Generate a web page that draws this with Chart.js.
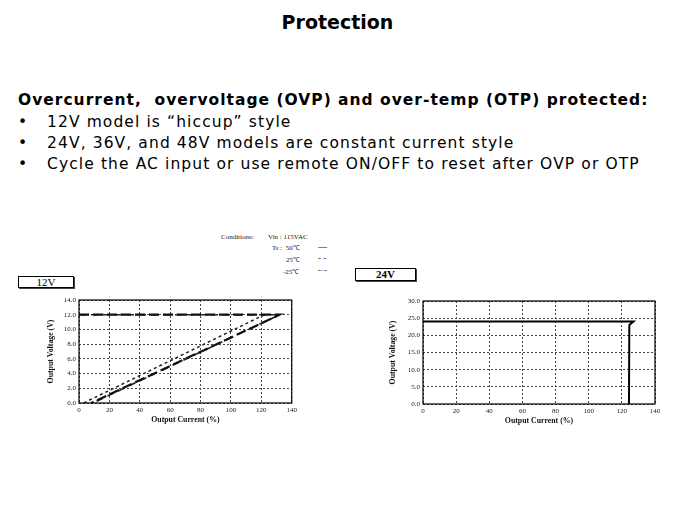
<!DOCTYPE html>
<html><head><meta charset="utf-8">
<script src="https://cdn.jsdelivr.net/npm/chart.js@4"></script>
<style>
html,body{margin:0;padding:0;background:#fff;}
body{width:675px;height:506px;position:relative;overflow:hidden;font-family:"DejaVu Sans",Verdana,sans-serif;color:#000;}
.abs{position:absolute;white-space:nowrap;}
#title{left:0;width:675px;text-align:center;top:11px;font-size:19px;font-weight:bold;}
#head{left:18px;top:91px;font-size:15.5px;font-weight:bold;letter-spacing:1px;}
.bul{left:18px;font-size:15.5px;}
.bul span{position:absolute;left:29px;letter-spacing:1.1px;}
.box{border:1px solid #000;font-family:"Liberation Serif",serif;font-size:11px;text-align:center;line-height:10px;box-shadow:1px 1px 0 #444;}
.cond{font-family:"Liberation Serif",serif;font-size:7px;color:#222;}
</style></head>
<body>
<div id="title" class="abs">Protection</div>
<div id="head" class="abs">Overcurrent,&nbsp; overvoltage (OVP) and over-temp (OTP) protected:</div>
<div class="abs bul" style="top:113px">•<span>12V model is “hiccup” style</span></div>
<div class="abs bul" style="top:134px">•<span>24V, 36V, and 48V models are constant current style</span></div>
<div class="abs bul" style="top:155px">•<span>Cycle the AC input or use remote ON/OFF to reset after OVP or OTP</span></div>

<div class="abs cond" style="left:221px;top:233px">Conditions:</div>
<div class="abs cond" style="left:268px;top:233px">Vin : 115VAC</div>
<div class="abs cond" style="left:272px;top:243px">Ts :&nbsp; 50℃</div>
<div class="abs cond" style="left:286px;top:255px">25℃</div>
<div class="abs cond" style="left:283px;top:267px">-25℃</div>
<div class="abs cond" style="left:318px;top:241px;font-size:9px">—</div>
<div class="abs cond" style="left:318px;top:253px;font-size:9px">- -</div>
<div class="abs cond" style="left:318px;top:265px;font-size:9px">-·-</div>

<div class="abs box" style="left:18px;top:276px;width:54px;height:10px">12V</div>
<div class="abs box" style="left:355px;top:268px;width:59px;height:11px;font-weight:bold">24V</div>

<div class="abs" style="left:20px;top:290px;width:280px;height:150px"><canvas id="c1"></canvas></div>
<div class="abs" style="left:360px;top:290px;width:310px;height:150px"><canvas id="c2"></canvas></div>

<script>
// ---- data ----
const xTicks = [0, 20, 40, 60, 80, 100, 120, 140];
const yTicks12 = [0, 2, 4, 6, 8, 10, 12, 14];
const yTicks24 = [0, 5, 10, 15, 20, 25, 30];
const series12_50C_x = [0, 132, 8];
const series12_50C_y = [12, 12, 0];
const series12_25C_x = [0, 132, 9];
const series12_25C_y = [12, 12, 0];
const series12_m25C_x = [122, 3];
const series12_m25C_y = [12, 0];
const series24_x = [0, 127, 124.5, 124.3];
const series24_y = [24, 24, 23, 0];

const pts = (xs, ys) => xs.map((x, i) => ({x: x, y: ys[i]}));

const boxPlugin = {
  id: 'plotBox',
  afterDraw(chart) {
    const a = chart.chartArea, c = chart.ctx;
    c.save(); c.strokeStyle = '#000'; c.lineWidth = 1.2;
    c.strokeRect(a.left, a.top, a.right - a.left, a.bottom - a.top);
    c.restore();
  }
};

function makeChart(id, datasets, yTicks, yMax, pad, yW, xH) {
  return new Chart(document.getElementById(id), {
    type: 'scatter',
    data: {datasets: datasets},
    plugins: [boxPlugin],
    options: {
      responsive: true, maintainAspectRatio: false, animation: false,
      layout: {padding: pad},
      plugins: {legend: {display: false}, tooltip: {enabled: false}},
      scales: {
        x: {
          type: 'linear', min: 0, max: 140,
          afterBuildTicks: s => { s.ticks = xTicks.map(v => ({value: v})); },
          ticks: {font: {family: 'Liberation Serif', size: 7}, color: '#222', padding: 3, maxRotation: 0,
                  callback: v => String(v)},
          grid: {color: '#444', lineWidth: 1, drawTicks: false, tickLength: 0},
          border: {display: false, dash: [2, 2]},
          title: {display: true, text: 'Output Current (%)', font: {family: 'Liberation Serif', size: 7.8, weight: 'bold'}, color: '#111', padding: {top: 0, bottom: 0}},
          afterFit: s => { s.height = xH; }
        },
        y: {
          type: 'linear', min: 0, max: yMax,
          afterBuildTicks: s => { s.ticks = yTicks.map(v => ({value: v})); },
          ticks: {font: {family: 'Liberation Serif', size: 7}, color: '#222', padding: 3,
                  callback: v => v.toFixed(1)},
          grid: {color: '#444', lineWidth: 1, drawTicks: false, tickLength: 0},
          border: {display: false, dash: [2, 2]},
          title: {display: true, text: 'Output Voltage (V)', font: {family: 'Liberation Serif', size: 7.8, weight: 'bold'}, color: '#111', padding: {top: 0, bottom: 0}},
          afterFit: s => { s.width = yW; }
        }
      }
    }
  });
}

Chart.defaults.scale.grid.borderDash = [2, 2];

const ds12 = [
  {label: '50℃', data: pts(series12_50C_x, series12_50C_y), showLine: true, borderColor: '#111', borderWidth: 2.2, borderDash: [10, 4], pointRadius: 0, fill: false},
  {label: '25℃', data: pts(series12_25C_x, series12_25C_y), showLine: true, borderColor: '#222', borderWidth: 1.6, borderDash: [7, 5], pointRadius: 0, fill: false},
  {label: '-25℃', data: pts(series12_m25C_x, series12_m25C_y), showLine: true, borderColor: '#222', borderWidth: 1.5, borderDash: [3, 3], pointRadius: 0, fill: false}
];
const ds24 = [
  {label: '24V', data: pts(series24_x, series24_y), showLine: true, borderColor: '#000', borderWidth: 2, pointRadius: 0, fill: false, tension: 0}
];

const c1 = makeChart('c1', ds12, yTicks12, 14, {top: 10, right: 8, left: 26, bottom: 15}, 33, 22);
const c2 = makeChart('c2', ds24, yTicks24, 30, {top: 11, right: 15, left: 28, bottom: 14}, 35, 22);
[c1, c2].forEach(ch => {
  ch.options.scales.x.grid.tickBorderDash = [2, 2];
  ch.options.scales.y.grid.tickBorderDash = [2, 2];
  ch.update('none');
});
</script>
</body></html>
